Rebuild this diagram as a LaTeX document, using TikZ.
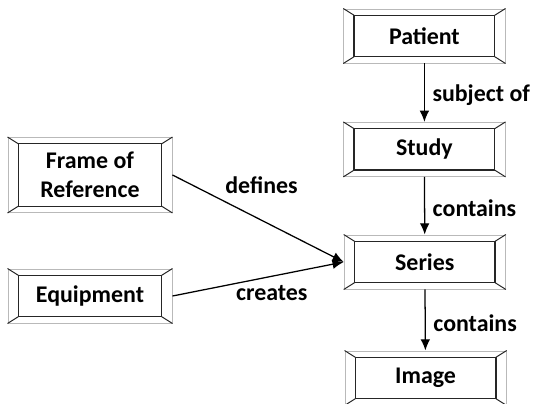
\documentclass[tikz,border=0pt]{standalone}
\usepackage{fontspec}
\setmainfont{Carlito}
\usepackage{tikz}
\usetikzlibrary{positioning,arrows.meta}

\begin{document}
\begin{tikzpicture}[
    font=\bfseries\fontsize{17}{20.5}\selectfont,
    entity/.style={rectangle, draw=gray!55, line width=0.7pt, fill=white, align=center, minimum width=4.03cm, minimum height=1.35cm, inner sep=0pt},
    wide/.style={entity, minimum width=4.1cm},
    face/.style={draw=black!85, line width=0.9pt},
    bevel/.style={draw=black!85, line width=0.7pt},
    relation/.style={-{Latex[length=2.8mm,width=2.4mm]}, line width=0.9pt}
]
    \useasboundingbox (0,0) rectangle (13.4,10.075);

    % --- STUDY HIERARCHY ---
    \node[entity] (patient) at (10.61, 9.175) {Patient};
    \node[entity] (study) at (10.61, 6.34) {Study};
    \node[entity] (series) at (10.62, 3.525) {Series};
    \node[entity] (image) at (10.64, 0.625) {Image};

    % --- SERIES SOURCES ---
    \node[wide, minimum height=1.875cm] (frame) at (2.25, 5.7) {Frame of\\Reference};
    \node[wide] (equip) at (2.25, 2.675) {Equipment};

    % bevelled button faces
    \foreach \n in {patient,study,series,image,frame,equip} {
        \draw[face] ([shift={(0.27,0.17)}]\n.south west) rectangle ([shift={(-0.27,-0.17)}]\n.north east);
        \foreach \a/\sx/\sy in {south west/1/1, south east/-1/1, north west/1/-1, north east/-1/-1}
            \draw[bevel] (\n.\a) -- ++(\sx*0.27, \sy*0.17);
    }

    % ================= RELATIONSHIPS =================
    \draw[relation] (patient) -- node[right=2pt, pos=0.55] {subject of} (study);
    \draw[relation] (study) -- node[right=2pt, pos=0.55] {contains} (series);
    \draw[relation] (series) -- node[right=2pt, pos=0.55] {contains} (image);

    \draw[relation] (frame.east) -- node[above=15pt, pos=0.52] {defines} (series.west);
    \draw[relation] (equip.east) -- node[below=3pt, pos=0.58] {creates} (series.west);

\end{tikzpicture}
\end{document}
